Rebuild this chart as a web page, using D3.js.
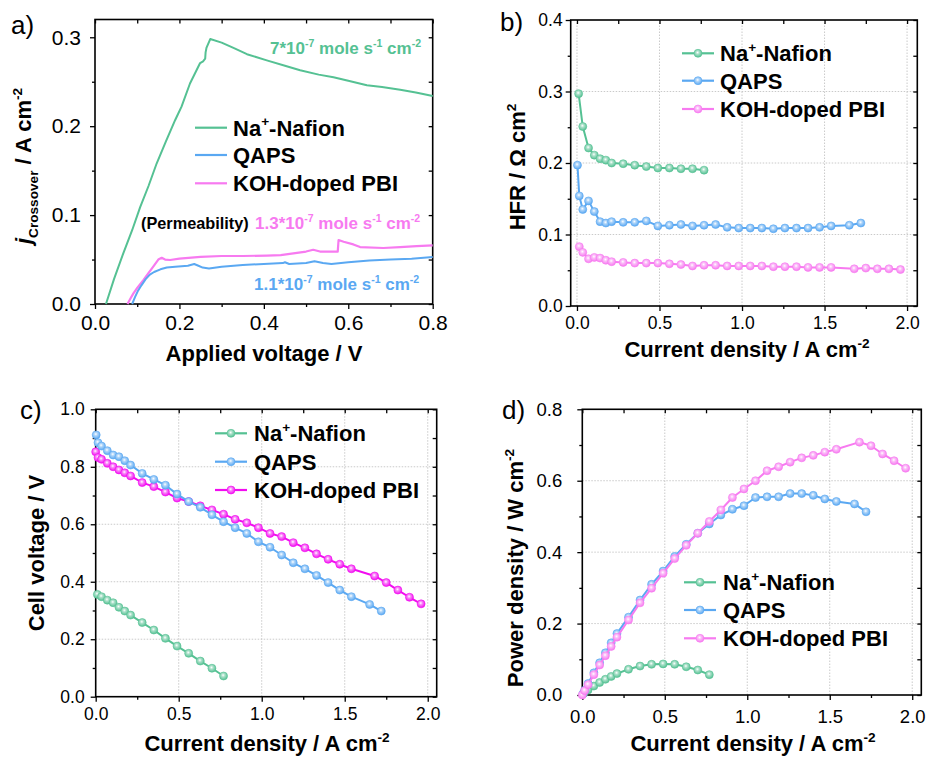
<!DOCTYPE html>
<html>
<head>
<meta charset="utf-8">
<script src="https://cdn.jsdelivr.net/npm/d3@7"></script>
<style>
  body { margin: 0; background: #fff; }
  svg text { font-family: "Liberation Sans", Arial, sans-serif; }
</style>
</head>
<body>
<div id="chart"></div>
<script>
// ---- panel a: crossover current vs applied voltage
var crossV_Nafion = [0.026, 0.045, 0.067, 0.088, 0.107, 0.127, 0.146, 0.168, 0.19, 0.197, 0.205, 0.225, 0.249, 0.256, 0.261, 0.262, 0.264, 0.273,
    0.30, 0.328, 0.36, 0.407, 0.45, 0.486, 0.53, 0.565, 0.60, 0.644, 0.68, 0.723, 0.76, 0.80];
var crossJ_Nafion = [0, 0.028, 0.057, 0.083, 0.109, 0.133, 0.158, 0.183, 0.207, 0.214, 0.222, 0.248, 0.271, 0.273, 0.276, 0.283, 0.288, 0.298,
    0.294, 0.288, 0.281, 0.274, 0.268, 0.263, 0.258, 0.255, 0.251, 0.246, 0.244, 0.241, 0.238, 0.234];
var crossV_QAPS = [0.088, 0.095, 0.102, 0.11, 0.12, 0.13, 0.14, 0.155, 0.17, 0.19, 0.22, 0.235, 0.245, 0.255, 0.27, 0.30, 0.35, 0.40, 0.445, 0.45,
    0.46, 0.50, 0.52, 0.54, 0.56, 0.60, 0.65, 0.70, 0.75, 0.80];
var crossJ_QAPS = [0, 0.008, 0.015, 0.021, 0.028, 0.033, 0.036, 0.039, 0.041, 0.042, 0.043, 0.045, 0.043, 0.041, 0.040, 0.042, 0.044, 0.045, 0.046, 0.047,
    0.045, 0.046, 0.048, 0.046, 0.045, 0.047, 0.049, 0.050, 0.051, 0.053];
var crossV_PBI = [0.077, 0.085, 0.091, 0.10, 0.115, 0.127, 0.138, 0.15, 0.158, 0.166, 0.178, 0.20, 0.25, 0.30, 0.35, 0.407, 0.44, 0.47, 0.50, 0.517,
    0.533, 0.555, 0.575, 0.577, 0.589, 0.612, 0.628, 0.683, 0.723, 0.762, 0.80];
var crossJ_PBI = [0, 0.007, 0.012, 0.018, 0.027, 0.035, 0.042, 0.050, 0.052, 0.050, 0.0495, 0.051, 0.053, 0.054, 0.054, 0.0545, 0.055, 0.057, 0.059, 0.061,
    0.059, 0.059, 0.059, 0.072, 0.070, 0.067, 0.064, 0.063, 0.064, 0.065, 0.066];

// ---- current densities (A cm-2) used in b, c, d
var jNafion = [0.01, 0.035, 0.07, 0.105, 0.14, 0.175, 0.21, 0.28, 0.35, 0.42, 0.49, 0.56, 0.63, 0.70, 0.77];
var jQAPS = [0.003, 0.014, 0.035, 0.07, 0.105, 0.14, 0.175, 0.21, 0.28, 0.35, 0.42, 0.49, 0.56, 0.63, 0.70, 0.77, 0.84, 0.91, 0.98, 1.05,
    1.12, 1.19, 1.26, 1.33, 1.40, 1.47, 1.54, 1.65, 1.72];
var jPBI = [0.0, 0.014, 0.035, 0.07, 0.105, 0.14, 0.175, 0.21, 0.28, 0.35, 0.42, 0.49, 0.56, 0.63, 0.70, 0.77, 0.84, 0.91, 0.98, 1.05,
    1.12, 1.19, 1.26, 1.33, 1.40, 1.47, 1.54, 1.68, 1.75, 1.82, 1.89, 1.96];
var jPBI_hfr = [0.014, 0.035, 0.07, 0.105, 0.14, 0.175, 0.21, 0.28, 0.35, 0.42, 0.49, 0.56, 0.63, 0.70, 0.77, 0.84, 0.91, 0.98, 1.05,
    1.12, 1.19, 1.26, 1.33, 1.40, 1.47, 1.54, 1.68, 1.75, 1.82, 1.89, 1.96];

// ---- panel b: HFR (ohm cm2)
var hfrNafion = [0.297, 0.251, 0.221, 0.211, 0.206, 0.204, 0.200, 0.199, 0.197, 0.195, 0.193, 0.193, 0.192, 0.192, 0.190];
var hfrQAPS = [0.197, 0.154, 0.135, 0.147, 0.132, 0.118, 0.116, 0.118, 0.117, 0.117, 0.119, 0.112, 0.113, 0.114, 0.112, 0.113, 0.114, 0.110,
    0.109, 0.109, 0.109, 0.108, 0.109, 0.109, 0.109, 0.110, 0.112, 0.113, 0.116];
var hfrPBI = [0.083, 0.075, 0.066, 0.068, 0.067, 0.064, 0.062, 0.061, 0.060, 0.060, 0.060, 0.059, 0.058, 0.056, 0.057, 0.057, 0.056, 0.056,
    0.056, 0.056, 0.055, 0.055, 0.055, 0.054, 0.054, 0.054, 0.052, 0.053, 0.052, 0.052, 0.051];

// ---- panel c: cell voltage (V)
var vNafion = [0.356, 0.348, 0.336, 0.327, 0.311, 0.298, 0.284, 0.258, 0.232, 0.203, 0.176, 0.151, 0.124, 0.099, 0.072];
var vQAPS = [0.911, 0.884, 0.872, 0.856, 0.841, 0.835, 0.821, 0.806, 0.777, 0.756, 0.736, 0.705, 0.679, 0.659, 0.633, 0.609, 0.588, 0.568,
    0.539, 0.520, 0.493, 0.466, 0.445, 0.422, 0.397, 0.371, 0.348, 0.321, 0.298];
var vPBI = [0.852, 0.832, 0.826, 0.812, 0.800, 0.789, 0.779, 0.768, 0.745, 0.731, 0.712, 0.691, 0.679, 0.664, 0.650, 0.635, 0.617, 0.605,
    0.588, 0.568, 0.557, 0.536, 0.518, 0.497, 0.478, 0.461, 0.445, 0.420, 0.397, 0.371, 0.346, 0.323];

// ---- panel d: power density (W cm-2)
var pNafion = [0.005, 0.014, 0.025, 0.035, 0.044, 0.052, 0.060, 0.072, 0.081, 0.086, 0.087, 0.086, 0.079, 0.070, 0.057];
var pQAPS = [0.003, 0.013, 0.032, 0.062, 0.090, 0.118, 0.146, 0.172, 0.218, 0.266, 0.310, 0.347, 0.388, 0.422, 0.453, 0.479, 0.504, 0.520,
    0.530, 0.553, 0.555, 0.555, 0.564, 0.564, 0.559, 0.549, 0.542, 0.535, 0.513];
var pPBI = [0.0, 0.012, 0.029, 0.057, 0.084, 0.110, 0.136, 0.162, 0.210, 0.258, 0.299, 0.341, 0.382, 0.419, 0.453, 0.486, 0.518, 0.553,
    0.577, 0.600, 0.628, 0.639, 0.652, 0.664, 0.671, 0.680, 0.688, 0.708, 0.698, 0.675, 0.656, 0.635];

var seriesNames = ["Na+-Nafion", "QAPS", "KOH-doped PBI"];

var green = "#55c193", blue = "#5aa8f2", pink = "#f77af0", magenta = "#f20cf0";

var svg = d3.select("#chart").append("svg")
    .attr("width", 928)
    .attr("height", 758);

// shaded ball markers
var defs = svg.append("defs");
[["g", green], ["b", blue], ["p", pink], ["m", magenta]].forEach(function(c) {
    var grad = defs.append("radialGradient").attr("id", "ball-" + c[0])
        .attr("cx", "45%").attr("cy", "40%").attr("r", "60%");
    grad.append("stop").attr("offset", "0%").attr("stop-color", "#fff");
    grad.append("stop").attr("offset", "35%").attr("stop-color", d3.interpolateRgb("#fff", c[1])(0.5));
    grad.append("stop").attr("offset", "100%").attr("stop-color", c[1]);
});

// text with sub/superscripts
function richText(sel, parts, size) {
    var shift = 0;
    parts.forEach(function(p) {
        var target = 0, fs = size;
        if (p.s === "sup") { target = -size * 0.42; fs = size * 0.62; }
        if (p.s === "sub") { target = size * 0.3; fs = size * 0.62; }
        var t = sel.append("tspan").text(p.t)
            .attr("dy", target - shift)
            .attr("font-size", fs);
        if (p.i) t.attr("font-style", "italic");
        shift = target;
    });
}

function makePanel(o) {
    var x = d3.scaleLinear().domain(o.xDomain).range(o.xRange);
    var y = d3.scaleLinear().domain(o.yDomain).range(o.yRange);
    var g = svg.append("g");
    var xl = o.xRange[0], xr = o.xRange[1], yb = o.yRange[0], yt = o.yRange[1];

    if (o.grid) {
        g.selectAll(".gx").data(o.xTicks.filter(d => x(d) > xl + 3 && x(d) < xr - 3))
            .enter().append("line")
            .attr("x1", d => x(d)).attr("x2", d => x(d))
            .attr("y1", yb).attr("y2", yt)
            .attr("stroke", "#c4c4c4").attr("stroke-width", 0.9)
            .attr("stroke-dasharray", "1.5,1.5");
        g.selectAll(".gy").data(o.yTicks.filter(d => y(d) < yb - 3 && y(d) > yt + 3))
            .enter().append("line")
            .attr("y1", d => y(d)).attr("y2", d => y(d))
            .attr("x1", xl).attr("x2", xr)
            .attr("stroke", "#c4c4c4").attr("stroke-width", 0.9)
            .attr("stroke-dasharray", "1.5,1.5");
    }

    var fmt = d3.format(".1f");
    function styleAxis(a, fs) {
        a.select(".domain").remove();
        a.selectAll("line").attr("stroke", "#000").attr("stroke-width", 1.3);
        a.selectAll("text").attr("font-size", fs)
            .attr("font-family", "'Liberation Sans', Arial, sans-serif").attr("fill", "#000");
    }

    // bottom / left with labels, outward ticks
    g.append("g").attr("transform", `translate(0,${yb})`)
        .call(d3.axisBottom(x).tickValues(o.xTicks).tickSize(5).tickSizeOuter(0).tickPadding(o.xPad).tickFormat(fmt))
        .call(a => styleAxis(a, o.tickFont));
    g.append("g").attr("transform", `translate(0,${yb})`)
        .call(d3.axisBottom(x).tickValues(o.xMinor).tickSize(3).tickSizeOuter(0).tickFormat(""))
        .call(a => styleAxis(a, o.tickFont));
    g.append("g").attr("transform", `translate(${xl},0)`)
        .call(d3.axisLeft(y).tickValues(o.yTicks).tickSize(5).tickSizeOuter(0).tickPadding(o.yPad).tickFormat(fmt))
        .call(a => styleAxis(a, o.tickFont));
    g.append("g").attr("transform", `translate(${xl},0)`)
        .call(d3.axisLeft(y).tickValues(o.yMinor).tickSize(3).tickSizeOuter(0).tickFormat(""))
        .call(a => styleAxis(a, o.tickFont));

    // mirrored inward ticks on top / right
    g.append("g").attr("transform", `translate(0,${yt})`)
        .call(d3.axisTop(x).tickValues(o.xTicks.concat(o.xMinor)).tickSize(-4).tickSizeOuter(0).tickFormat(""))
        .call(a => styleAxis(a, o.tickFont));
    g.append("g").attr("transform", `translate(${xr},0)`)
        .call(d3.axisRight(y).tickValues(o.yTicks.concat(o.yMinor)).tickSize(-4).tickSizeOuter(0).tickFormat(""))
        .call(a => styleAxis(a, o.tickFont));

    g.append("rect")
        .attr("x", xl).attr("y", yt)
        .attr("width", xr - xl).attr("height", yb - yt)
        .attr("fill", "none").attr("stroke", "#000").attr("stroke-width", 1.6);

    // panel letter
    svg.append("text").attr("x", o.letterPos[0]).attr("y", o.letterPos[1])
        .attr("font-size", 26).text(o.letter);

    // axis titles
    var xt = svg.append("text")
        .attr("x", o.xTitlePos[0]).attr("y", o.xTitlePos[1])
        .attr("text-anchor", "middle").attr("font-weight", "bold").attr("font-size", 22);
    richText(xt, o.xTitle, 22);
    var yt2 = svg.append("text")
        .attr("transform", `translate(${o.yTitlePos[0]},${o.yTitlePos[1]}) rotate(-90)`)
        .attr("text-anchor", "middle").attr("font-weight", "bold").attr("font-size", 22);
    richText(yt2, o.yTitle, 22);

    return { x: x, y: y, g: g };
}

function drawSeries(p, xs, ys, color, ball, width) {
    var pts = d3.zip(xs, ys);
    var line = d3.line().x(d => p.x(d[0])).y(d => p.y(d[1]));
    p.g.append("path").datum(pts)
        .attr("d", line)
        .attr("fill", "none")
        .attr("stroke", color)
        .attr("stroke-width", width || 2)
        .attr("stroke-linejoin", "round");
    if (ball) {
        p.g.selectAll(null).data(pts).enter().append("circle")
            .attr("cx", d => p.x(d[0]))
            .attr("cy", d => p.y(d[1]))
            .attr("r", 4)
            .attr("fill", "url(#ball-" + ball + ")")
            .attr("stroke", color).attr("stroke-width", 0.6);
    }
}

function legend(x0, x1, tx, rows, colors, balls, fontSize) {
    rows.forEach(function(yy, i) {
        svg.append("line").attr("x1", x0).attr("x2", x1).attr("y1", yy).attr("y2", yy)
            .attr("stroke", colors[i]).attr("stroke-width", 2.2);
        if (balls) {
            svg.append("circle").attr("cx", (x0 + x1) / 2).attr("cy", yy).attr("r", 4)
                .attr("fill", "url(#ball-" + balls[i] + ")")
                .attr("stroke", colors[i]).attr("stroke-width", 0.6);
        }
        // baseline placed so caps are centred on the line
        var t = svg.append("text").attr("x", tx).attr("y", yy + fontSize * 0.36)
            .attr("font-weight", "bold").attr("font-size", fontSize);
        if (i === 0) {
            richText(t, [{ t: "Na" }, { t: "+", s: "sup" }, { t: "-Nafion" }], fontSize);
        } else {
            t.text(seriesNames[i]);
        }
    });
}

var currentTitle = [{ t: "Current density / A cm" }, { t: "-2", s: "sup" }];

// ================= panel a
var pa = makePanel({
    xDomain: [0, 0.8], xRange: [95, 432.7],
    yDomain: [0, 0.32], yRange: [304, 19.5],
    xTicks: [0, 0.2, 0.4, 0.6, 0.8], xMinor: [0.1, 0.3, 0.5, 0.7],
    yTicks: [0, 0.1, 0.2, 0.3], yMinor: [0.05, 0.15, 0.25],
    grid: false, tickFont: 21, xPad: 6, yPad: 9,
    letter: "a)", letterPos: [11, 34],
    xTitle: [{ t: "Applied voltage / V" }], xTitlePos: [264, 361],
    yTitle: [{ t: "j", i: true }, { t: "Crossover", s: "sub" }, { t: " / A cm" }, { t: "-2", s: "sup" }],
    yTitlePos: [31, 166]
});
drawSeries(pa, crossV_Nafion, crossJ_Nafion, green, null, 2);
drawSeries(pa, crossV_PBI, crossJ_PBI, pink, null, 2.2);
drawSeries(pa, crossV_QAPS, crossJ_QAPS, blue, null, 2);
legend(195, 227, 233, [127.7, 155, 183.3], [green, blue, pink], null, 22);

function annot(x, y, color, parts, size) {
    var t = svg.append("text").attr("x", x).attr("y", y)
        .attr("font-weight", "bold").attr("font-size", size).attr("fill", color);
    richText(t, parts, size);
}
var permParts = function(lead) {
    return [{ t: lead }, { t: "-7", s: "sup" }, { t: " mole s" }, { t: "-1", s: "sup" }, { t: " cm" }, { t: "-2", s: "sup" }];
};
annot(270, 54, green, permParts("7*10"), 17);
annot(141, 229, "#000", [{ t: "(Permeability)" }], 16.3);
annot(255, 229, pink, permParts("1.3*10"), 17);
annot(254, 290, blue, permParts("1.1*10"), 17);

// ================= panel b
var pb = makePanel({
    xDomain: [-0.038, 2.062], xRange: [570.7, 917.3],
    yDomain: [0, 0.4], yRange: [306, 20],
    xTicks: [0, 0.5, 1.0, 1.5, 2.0], xMinor: [0.25, 0.75, 1.25, 1.75],
    yTicks: [0, 0.1, 0.2, 0.3, 0.4], yMinor: [0.05, 0.15, 0.25, 0.35],
    grid: true, tickFont: 17.5, xPad: 6, yPad: 3,
    letter: "b)", letterPos: [500, 31],
    xTitle: currentTitle, xTitlePos: [747, 357],
    yTitle: [{ t: "HFR / \u03A9 cm" }, { t: "2", s: "sup" }],
    yTitlePos: [525, 167]
});
drawSeries(pb, jNafion, hfrNafion, green, "g");
drawSeries(pb, jQAPS, hfrQAPS, blue, "b");
drawSeries(pb, jPBI_hfr, hfrPBI, pink, "p");
legend(682, 714, 720, [53.3, 80.7, 109], [green, blue, pink], ["g", "b", "p"], 22);

// ================= panel c
var pc = makePanel({
    xDomain: [0, 2.054], xRange: [95.7, 436.7],
    yDomain: [0, 1.0], yRange: [696.7, 409.3],
    xTicks: [0, 0.5, 1.0, 1.5, 2.0], xMinor: [0.25, 0.75, 1.25, 1.75],
    yTicks: [0, 0.2, 0.4, 0.6, 0.8, 1.0], yMinor: [0.1, 0.3, 0.5, 0.7, 0.9],
    grid: true, tickFont: 17.5, xPad: 6, yPad: 6,
    letter: "c)", letterPos: [20, 419],
    xTitle: currentTitle, xTitlePos: [267, 751],
    yTitle: [{ t: "Cell voltage / V" }],
    yTitlePos: [44, 553]
});
drawSeries(pc, jNafion, vNafion, green, "g");
drawSeries(pc, jPBI, vPBI, magenta, "m");
drawSeries(pc, jQAPS, vQAPS, blue, "b");
legend(215, 247, 254, [433.3, 461.7, 490], [green, blue, magenta], ["g", "b", "m"], 22);

// ================= panel d
var pd = makePanel({
    xDomain: [0, 2.055], xRange: [582.3, 921.3],
    yDomain: [0, 0.8], yRange: [695, 409.3],
    xTicks: [0, 0.5, 1.0, 1.5, 2.0], xMinor: [0.25, 0.75, 1.25, 1.75],
    yTicks: [0, 0.2, 0.4, 0.6, 0.8], yMinor: [0.1, 0.3, 0.5, 0.7],
    grid: true, tickFont: 18.5, xPad: 10, yPad: 15,
    letter: "d)", letterPos: [502, 419],
    xTitle: currentTitle, xTitlePos: [753, 751],
    yTitle: [{ t: "Power density / W cm" }, { t: "-2", s: "sup" }],
    yTitlePos: [523, 568]
});
drawSeries(pd, jNafion, pNafion, green, "g");
drawSeries(pd, jQAPS, pQAPS, blue, "b");
drawSeries(pd, jPBI, pPBI, pink, "p");
legend(684, 716, 723, [582.3, 610, 638.3], [green, blue, pink], ["g", "b", "p"], 22);
</script>
</body>
</html>
